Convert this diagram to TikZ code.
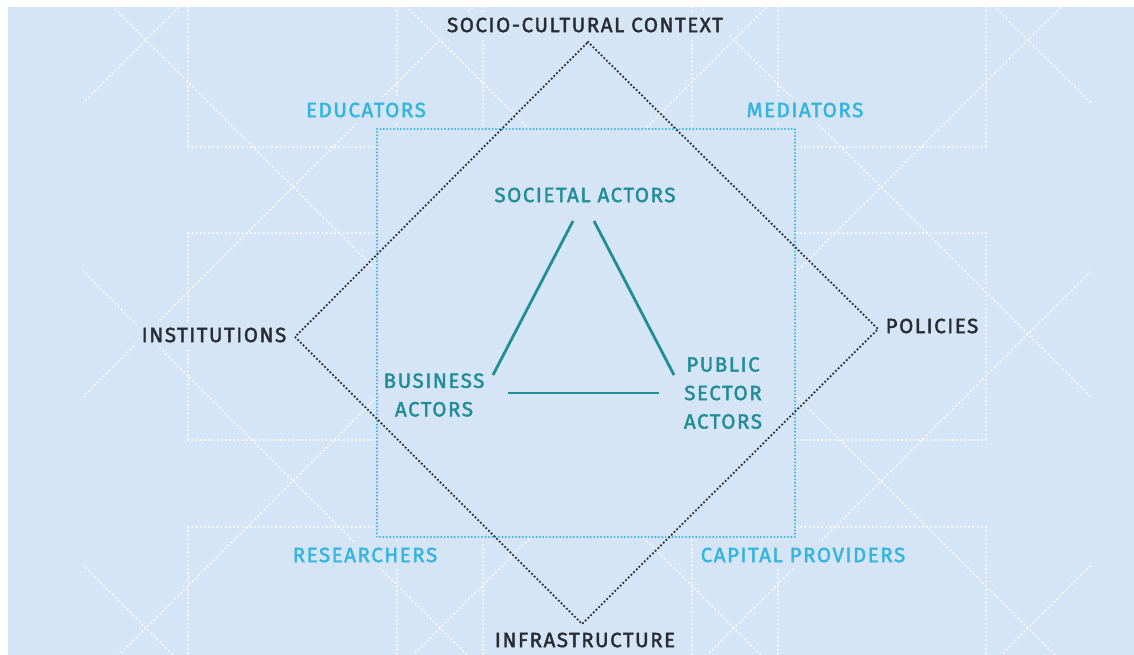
\documentclass[tikz,border=0pt]{standalone}
\usepackage{fontspec}
\setmainfont{Fira Sans}[LetterSpace=7.5, FakeBold=2]
\definecolor{bg}{RGB}{214,229,245}
\definecolor{cy}{RGB}{52,181,222}
\definecolor{tl}{RGB}{34,141,152}
\definecolor{dk}{RGB}{40,44,52}
\tikzset{
  pat/.style={white, line width=2.1pt, dash pattern=on 0pt off 4.2pt, line cap=round},
  dia/.style={dk, line width=2.5pt, dash pattern=on 0pt off 3.8pt, line cap=round},
  sq/.style={cy, line width=2.2pt, dash pattern=on 0pt off 3.4pt, line cap=round},
  tri/.style={tl, line width=2.8pt},
  lab/.style={inner xsep=6pt, inner ysep=6pt, font=\fontsize{20.5}{28.5}\selectfont, align=center},
  outer/.style={lab, fill=bg, text=dk},
  role/.style={lab, fill=bg, text=cy},
  actor/.style={lab, text=tl},
}
\begin{document}
\begin{tikzpicture}[x=1pt,y=-1pt]
\useasboundingbox (0,0) rectangle (1134,655);
\fill[white] (0,0) rectangle (1134,655);
\fill[bg] (8,7) rectangle (1134,655);
% background pattern
\begin{scope}
  \clip (83,7) rectangle (1091,655);
  \foreach \k in {-4,...,5} {
    \draw[pat] (83,{186+294*\k-83}) -- (1091,{186+294*\k-1091});
    \draw[pat] (83,{-106+294*\k+83}) -- (1091,{-106+294*\k+1091});
  }
  \foreach \x in {188,986} {
    \draw[pat] (\x,7) -- (\x,147);
    \draw[pat] (\x,233) -- (\x,440);
    \draw[pat] (\x,527) -- (\x,655);
  }
  \foreach \x in {397,483,692,778} \draw[pat] (\x,7) -- (\x,655);
  \foreach \y in {147,233,440,527} \draw[pat] (188,\y) -- (986,\y);
\end{scope}
\fill[bg] (377,129) rectangle (795,537);
% labels
\node[outer] (soc) at (585,25) {SOCIO-CULTURAL CONTEXT};
\node[outer] (ins) at (214,335) {INSTITUTIONS};
\node[outer] (pol) at (932,326) {POLICIES};
\node[outer] (inf) at (585,640) {INFRASTRUCTURE};
\node[role] (edu) at (366,110) {EDUCATORS};
\node[role] (med) at (805,110) {MEDIATORS};
\node[role] (res) at (365,555) {RESEARCHERS};
\node[role] (cap) at (803,555) {CAPITAL PROVIDERS};
\node[actor] (sa) at (585,195) {SOCIETAL ACTORS};
\node[actor] (ba) at (434,395) {BUSINESS\\ACTORS};
\node[actor] (pa) at (723,393) {PUBLIC\\SECTOR\\ACTORS};
% blue square
\coordinate (q1) at (377,129);
\coordinate (q2) at (795,129);
\coordinate (q3) at (795,537);
\coordinate (q4) at (377,537);
\draw[sq] (q1) -- (q2) -- (q3) -- (q4) -- cycle;
% diamond
\coordinate (dt) at (588,42);
\coordinate (dr) at (878,329);
\coordinate (db) at (582,624);
\coordinate (dl) at (295,337);
\draw[dia] (dt) -- (dr) -- (db) -- (dl) -- cycle;
% triangle
\coordinate (t1) at (493,375);
\coordinate (t2) at (573,221);
\coordinate (t3) at (594,221);
\coordinate (t4) at (674,375);
\coordinate (t5) at (508,393);
\coordinate (t6) at (659,393);
\draw[tri] (t1) -- (t2);
\draw[tri] (t3) -- (t4);
\draw[tri] (t5) -- (t6);
\end{tikzpicture}
\end{document}
